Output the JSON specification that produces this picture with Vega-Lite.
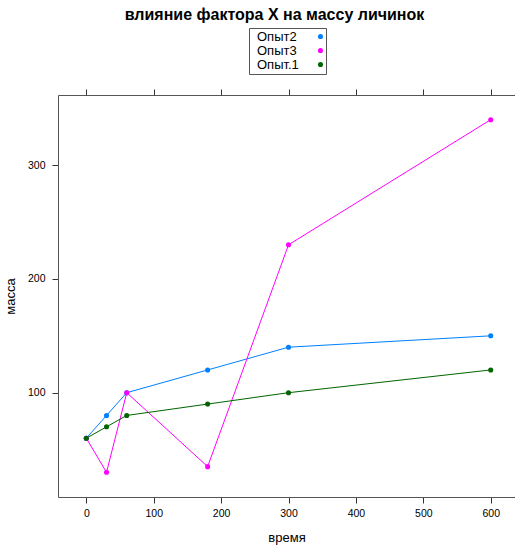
{
  "$schema": "https://vega.github.io/schema/vega-lite/v6.json",
  "autosize": "none",
  "width": 457,
  "height": 402,
  "padding": {"left": 58, "top": 95, "right": 0, "bottom": 50},
  "title": {"text": "влияние фактора X на массу личинок", "font": "Liberation Sans", "fontSize": 16, "fontWeight": "bold", "anchor": "middle", "frame": "group", "dx": -12, "dy": -1, "color": "#000"},
  "config": {"view": {"stroke": null}, "font": "Liberation Sans"},
  "data": {"values": [
    {"t": 0, "m": 60, "s": "Опыт2"},
    {"t": 30, "m": 80, "s": "Опыт2"},
    {"t": 60, "m": 100, "s": "Опыт2"},
    {"t": 180, "m": 120, "s": "Опыт2"},
    {"t": 300, "m": 140, "s": "Опыт2"},
    {"t": 600, "m": 150, "s": "Опыт2"},
    {"t": 0, "m": 60, "s": "Опыт3"},
    {"t": 30, "m": 30, "s": "Опыт3"},
    {"t": 60, "m": 100, "s": "Опыт3"},
    {"t": 180, "m": 35, "s": "Опыт3"},
    {"t": 300, "m": 230, "s": "Опыт3"},
    {"t": 600, "m": 340, "s": "Опыт3"},
    {"t": 0, "m": 60, "s": "Опыт.1"},
    {"t": 30, "m": 70, "s": "Опыт.1"},
    {"t": 60, "m": 80, "s": "Опыт.1"},
    {"t": 180, "m": 90, "s": "Опыт.1"},
    {"t": 300, "m": 100, "s": "Опыт.1"},
    {"t": 600, "m": 120, "s": "Опыт.1"}
  ]},
  "resolve": {"axis": {"x": "independent"}},
  "layer": [
    {
      "mark": {"type": "line", "strokeWidth": 1},
      "encoding": {
        "x": {"field": "t", "type": "quantitative", "scale": {"domain": [-42, 636], "nice": false, "zero": false},
          "axis": {"orient": "bottom", "title": "время", "values": [0, 100, 200, 300, 400, 500, 600], "grid": false, "domainColor": "#555", "tickColor": "#333", "tickSize": 6, "labelPadding": 5, "labelFontSize": 10.5, "labelColor": "#000", "titleFontSize": 13, "titleFontWeight": "normal", "titleColor": "#000", "titlePadding": 13, "labelFlush": false}},
        "y": {"field": "m", "type": "quantitative", "scale": {"domain": [8.3, 361.7], "nice": false, "zero": false},
          "axis": {"title": "масса", "values": [100, 200, 300], "grid": false, "domainColor": "#555", "tickColor": "#333", "tickSize": 6, "labelPadding": 7, "labelFontSize": 10.5, "labelColor": "#000", "titleFontSize": 13, "titleFontWeight": "normal", "titleColor": "#000", "titlePadding": 10, "labelFlush": false}},
        "color": {"field": "s", "type": "nominal", "scale": {"domain": ["Опыт2", "Опыт3", "Опыт.1"], "range": ["#0080ff", "#ff00ff", "#006400"]},
          "legend": {"orient": "none", "legendX": 191, "legendY": -67, "title": null, "padding": 2, "strokeColor": "#555", "fillColor": "white", "labelFontSize": 13, "labelColor": "#000", "labelFont": "Liberation Sans", "symbolSize": 26, "symbolType": "circle", "symbolOffset": 63, "labelOffset": -70, "rowPadding": -1, "symbolStrokeWidth": 0}},
        "detail": {"field": "s"}
      }
    },
    {
      "mark": {"type": "point", "filled": true, "size": 26, "opacity": 1, "shape": "circle"},
      "encoding": {
        "x": {"field": "t", "type": "quantitative", "scale": {"domain": [-42, 636], "nice": false, "zero": false},
          "axis": {"orient": "top", "title": null, "labels": false, "values": [0, 100, 200, 300, 400, 500, 600], "grid": false, "domainColor": "#555", "tickColor": "#333", "tickSize": 6}},
        "y": {"field": "m", "type": "quantitative"},
        "color": {"field": "s", "type": "nominal"}
      }
    }
  ]
}
